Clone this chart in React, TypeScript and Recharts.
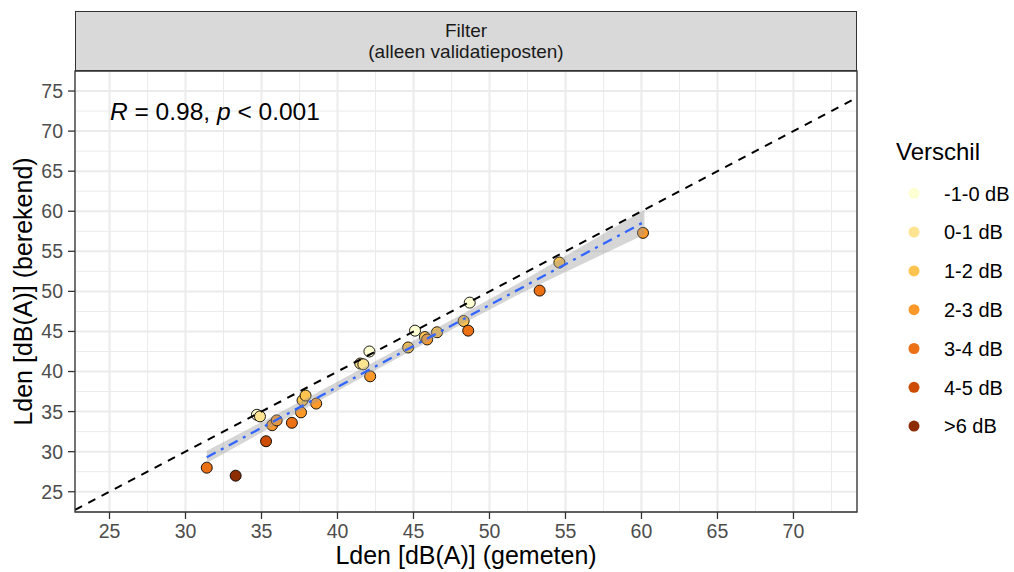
import React from "react"
import {
  ComposedChart,
  Scatter,
  Line,
  Area,
  XAxis,
  YAxis,
  CartesianGrid,
  ReferenceLine,
  ReferenceArea
} from "recharts"

// gemeten (x) vs berekend (y), per validatiepost
const gemeten = [31.4, 33.3, 35.3, 34.7, 34.9, 35.7, 36.0, 37.0, 37.6, 37.7, 37.9, 38.6, 41.5, 41.7, 42.1, 42.15, 44.65, 45.1, 45.75, 45.9, 46.55, 48.3, 48.6, 48.7, 53.3, 54.6, 60.1]
const berekend = [28.0, 27.0, 31.3, 34.6, 34.4, 33.3, 33.9, 33.6, 34.9, 36.4, 37.0, 36.0, 41.0, 40.9, 42.5, 39.4, 43.0, 45.1, 44.3, 44.0, 44.9, 46.3, 45.1, 48.6, 50.1, 53.6, 57.3]
const klasse = ["3-4 dB", ">6 dB", "4-5 dB", "-1-0 dB", "0-1 dB", "2-3 dB", "2-3 dB", "3-4 dB", "2-3 dB", "1-2 dB", "1-2 dB", "2-3 dB", "0-1 dB", "0-1 dB", "-1-0 dB", "2-3 dB", "1-2 dB", "-1-0 dB", "1-2 dB", "2-3 dB", "1-2 dB", "1-2 dB", "3-4 dB", "-1-0 dB", "3-4 dB", "1-2 dB", "2-3 dB"]

const categories = ["-1-0 dB", "0-1 dB", "1-2 dB", "2-3 dB", "3-4 dB", "4-5 dB", ">6 dB"]
const categoryColors = ["#FFFFD4", "#FEE391", "#FEC44F", "#FE9929", "#EC7014", "#CC4C02", "#8C2D04"]

// regressielijn + betrouwbaarheidsband
const fitX = [31.4, 60.2]
const fitY = [29.3, 58.7]
const bandX = [31.4, 38, 45, 52, 60.2]
const bandLow = [28.6, 35.5, 42.75, 49.7, 57.1]
const bandHigh = [30.1, 36.7, 43.85, 51.1, 60.2]

const xTicks = [25, 30, 35, 40, 45, 50, 55, 60, 65, 70]
const yTicks = [25, 30, 35, 40, 45, 50, 55, 60, 65, 70, 75]
const xMinor = [27.5, 32.5, 37.5, 42.5, 47.5, 52.5, 57.5, 62.5, 67.5, 72.5]
const yMinor = [27.5, 32.5, 37.5, 42.5, 47.5, 52.5, 57.5, 62.5, 67.5, 72.5]

const xDomain = [22.73, 74.18]
const yDomain = [22.47, 77.5]

const FONT = "'Liberation Sans', Arial, sans-serif"

const points = gemeten.map((x, i) => ({ x, y: berekend[i], klasse: klasse[i] }))
const fitData = fitX.map((x, i) => ({ x, y: fitY[i] }))
const bandData = bandX.map((x, i) => ({ x, band: [bandLow[i], bandHigh[i]] }))
const identityData = [
  { x: xDomain[0], y: xDomain[0] },
  { x: xDomain[1], y: xDomain[1] }
]

const PointShape = (props: any) => (
  <circle cx={props.cx} cy={props.cy} r={5.5} fill={props.fill} stroke="#000" strokeWidth={0.9} />
)

export default function App() {

  return (

    <div style={{ position: "absolute", left: 0, top: 0, width: 1014, height: 572, background: "#fff", fontFamily: FONT }}>

      <ComposedChart
        width={1014}
        height={572}
        margin={{ top: 71, right: 157, bottom: 30, left: 35 }}
      >

        <CartesianGrid stroke="#EBEBEB" strokeWidth={2} />

        {xMinor.map(v => (
          <ReferenceLine key={"xm" + v} x={v} stroke="#EBEBEB" strokeWidth={1} zIndex={-90} />
        ))}
        {yMinor.map(v => (
          <ReferenceLine key={"ym" + v} y={v} stroke="#EBEBEB" strokeWidth={1} zIndex={-90} />
        ))}

        <XAxis
          type="number"
          dataKey="x"
          domain={xDomain}
          allowDataOverflow
          ticks={xTicks}
          axisLine={false}
          tickSize={7}
          tickMargin={5}
          tickLine={{ stroke: "#333333", strokeWidth: 1.3 }}
          tick={{ fill: "#4D4D4D", fontSize: 19.5, fontFamily: FONT }}
          height={30}
          label={{
            content: (p: any) => (
              <text
                x={p.viewBox.x + p.viewBox.width / 2}
                y={p.viewBox.y + 52}
                textAnchor="middle"
                fontSize={25}
                fontFamily={FONT}
                fill="#000"
              >
                Lden [dB(A)] (gemeten)
              </text>
            )
          }}
        />

        <YAxis
          type="number"
          dataKey="y"
          domain={yDomain}
          allowDataOverflow
          ticks={yTicks}
          axisLine={false}
          tickSize={7}
          tickMargin={5}
          tickLine={{ stroke: "#333333", strokeWidth: 1.3 }}
          tick={{ fill: "#4D4D4D", fontSize: 19.5, fontFamily: FONT }}
          width={40}
          label={{
            content: (p: any) => {
              const cx = p.viewBox.x - 3
              const cy = p.viewBox.y + p.viewBox.height / 2
              return (
                <text
                  x={cx}
                  y={cy}
                  transform={`rotate(-90 ${cx} ${cy})`}
                  textAnchor="middle"
                  fontSize={25}
                  fontFamily={FONT}
                  fill="#000"
                >
                  Lden [dB(A)] (berekend)
                </text>
              )
            }
          }}
        />

        {/* punten eerst, band en lijnen erover (zoals ggplot) */}
        {categories.map((c, i) => (
          <Scatter
            key={c}
            name={c}
            data={points.filter(p => p.klasse === c)}
            dataKey="y"
            fill={categoryColors[i]}
            shape={PointShape}
            isAnimationActive={false}
            zIndex={100}
          />
        ))}

        <Area
          data={bandData}
          dataKey="band"
          type="linear"
          stroke="none"
          fill="#999999"
          fillOpacity={0.4}
          isAnimationActive={false}
          activeDot={false}
          zIndex={200}
        />

        <Line
          data={fitData}
          dataKey="y"
          type="linear"
          stroke="#3366FF"
          strokeWidth={2.3}
          strokeDasharray="10 6 3 6"
          dot={false}
          activeDot={false}
          isAnimationActive={false}
          zIndex={300}
        />

        <Line
          data={identityData}
          dataKey="y"
          type="linear"
          stroke="#000"
          strokeWidth={2}
          strokeDasharray="8 7"
          dot={false}
          activeDot={false}
          isAnimationActive={false}
          zIndex={310}
        />

        <ReferenceArea
          x1={xDomain[0]}
          x2={xDomain[1]}
          y1={yDomain[0]}
          y2={yDomain[1]}
          fill="none"
          fillOpacity={0}
          stroke="#333333"
          strokeWidth={1.3}
          zIndex={1000}
        />

      </ComposedChart>

      {/* facet strip */}
      <div
        style={{
          position: "absolute",
          left: 75,
          top: 11,
          width: 782,
          height: 60,
          boxSizing: "border-box",
          background: "#D9D9D9",
          border: "1.3px solid #333333",
          color: "#1A1A1A",
          fontSize: 19,
          lineHeight: "21px",
          textAlign: "center",
          paddingTop: 8
        }}
      >
        Filter<br />(alleen validatieposten)
      </div>

      {/* correlatie */}
      <div style={{ position: "absolute", left: 110, top: 100, fontSize: 24.5, lineHeight: "24px", color: "#000", whiteSpace: "nowrap" }}>
        <i>R</i> = 0.98, <i>p</i> &lt; 0.001
      </div>

      {/* legend */}
      <svg style={{ position: "absolute", left: 870, top: 120 }} width={144} height={330}>
        <text x={26} y={40} fontSize={24} fontFamily={FONT} fill="#000">Verschil</text>
        {categories.map((c, i) => (
          <g key={c}>
            <circle cx={44} cy={73.3 + i * 38.8} r={5.5} fill={categoryColors[i]} />
            <text x={74} y={73.3 + i * 38.8 + 7.2} fontSize={20} fontFamily={FONT} fill="#000">{c}</text>
          </g>
        ))}
      </svg>

    </div>

  )

}
